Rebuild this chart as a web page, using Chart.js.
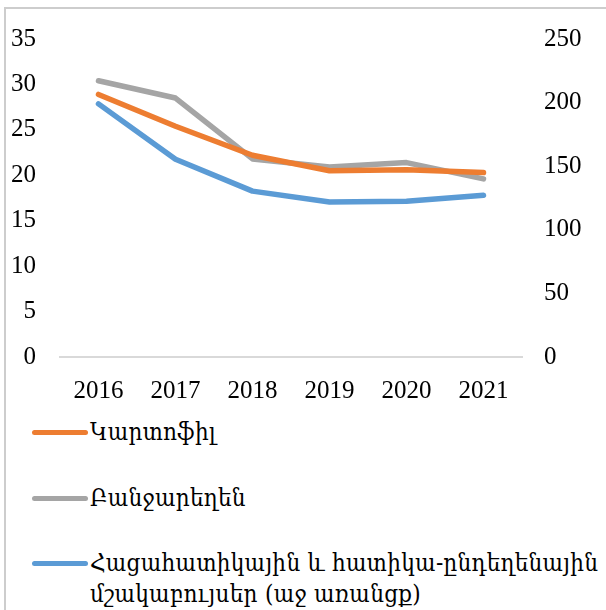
<!DOCTYPE html>
<html>
<head>
<meta charset="utf-8">
<script src="https://cdn.jsdelivr.net/npm/chart.js@4.4.1/dist/chart.umd.min.js"></script>
<style>
  html, body { margin: 0; padding: 0; background: #fff; }
  #wrap { position: relative; width: 606px; height: 610px; overflow: hidden; }
  #frame { position: absolute; left: 4px; top: 7px; width: 610px; height: 620px;
           border-left: 2px solid #cdcdcd; border-top: 2px solid #cdcdcd; }
  #c { position: absolute; left: 0; top: 0; }
  .lg { position: absolute; left: 32px; display: flex; align-items: flex-start;
        font-family: "DejaVu Serif Condensed", "DejaVu Serif", serif; font-size: 24px;
        letter-spacing: 0.3px; color: #000; }
  .lg .sw { width: 56px; height: 5px; border-radius: 3px; margin-top: 13px; flex: none; }
  .lg .tx { margin-left: 2px; line-height: 31px; white-space: nowrap; }
</style>
</head>
<body>
<div id="wrap">
  <div id="frame"></div>
  <canvas id="c" width="606" height="410"></canvas>
  <div id="legend"></div>
</div>
<script>
const years = ['2016', '2017', '2018', '2019', '2020', '2021'];
const potato = [28.9, 25.4, 22.2, 20.5, 20.6, 20.3];
const vegetables = [30.4, 28.5, 21.8, 20.9, 21.4, 19.6];
const grains = [199, 155.5, 130.4, 121.9, 122.4, 127.1];
const leftTicks = { min: 0, max: 35, step: 5 };
const rightTicks = { min: 0, max: 250, step: 50 };
const labels = [
  ['Կարտոֆիլ'],
  ['Բանջարեղեն'],
  ['Հացահատիկային և հատիկա-ընդեղենային', 'մշակաբույսեր (աջ առանցք)']
];

const tickFont = { family: '"Liberation Serif", "Times New Roman", serif', size: 25 };

const ds = (label, data, color, axis) => ({
  label, data, borderColor: color, backgroundColor: color, yAxisID: axis,
  borderWidth: 5.5, pointRadius: 0, tension: 0, fill: false,
  borderCapStyle: 'round', borderJoinStyle: 'round'
});

const chart = new Chart(document.getElementById('c'), {
  type: 'line',
  data: {
    labels: years,
    datasets: [
      ds(labels[0], potato, '#ED7D31', 'y'),
      ds(labels[1], vegetables, '#A5A5A5', 'y'),
      ds(labels[2], grains, '#5B9BD5', 'y1')
    ]
  },
  options: {
    responsive: false,
    devicePixelRatio: 1,
    animation: false,
    layout: { padding: { top: 35, left: 0, right: 0, bottom: 0 } },
    plugins: { legend: { display: false }, tooltip: { enabled: false } },
    scales: {
      x: {
        offset: true,
        grid: { display: false, drawTicks: false },
        border: { display: true, color: '#d9d9d9', width: 2 },
        ticks: { font: tickFont, color: '#000', padding: 19, maxRotation: 0 },
        afterFit: s => { s.height = 53; }
      },
      y: {
        position: 'left', min: leftTicks.min, max: leftTicks.max,
        grid: { display: false, drawTicks: false },
        border: { display: false },
        ticks: { stepSize: leftTicks.step, font: tickFont, color: '#000', padding: 24 },
        afterFit: s => { s.width = 60; }
      },
      y1: {
        position: 'right', min: rightTicks.min, max: rightTicks.max,
        grid: { display: false, drawTicks: false },
        border: { display: false },
        ticks: { stepSize: rightTicks.step, font: tickFont, color: '#000', padding: 22 },
        afterFit: s => { s.width = 84; }
      }
    }
  }
});

// HTML legend built from the chart's datasets
const lg = document.getElementById('legend');
chart.data.datasets.forEach((d, i) => {
  const row = document.createElement('div');
  row.className = 'lg';
  row.style.top = (417 + i * 65.5) + 'px';
  const sw = document.createElement('div');
  sw.className = 'sw';
  sw.style.background = d.borderColor;
  const tx = document.createElement('div');
  tx.className = 'tx';
  d.label.forEach((line, j) => {
    if (j) tx.appendChild(document.createElement('br'));
    tx.appendChild(document.createTextNode(line));
  });
  row.appendChild(sw);
  row.appendChild(tx);
  lg.appendChild(row);
});
</script>
</body>
</html>
